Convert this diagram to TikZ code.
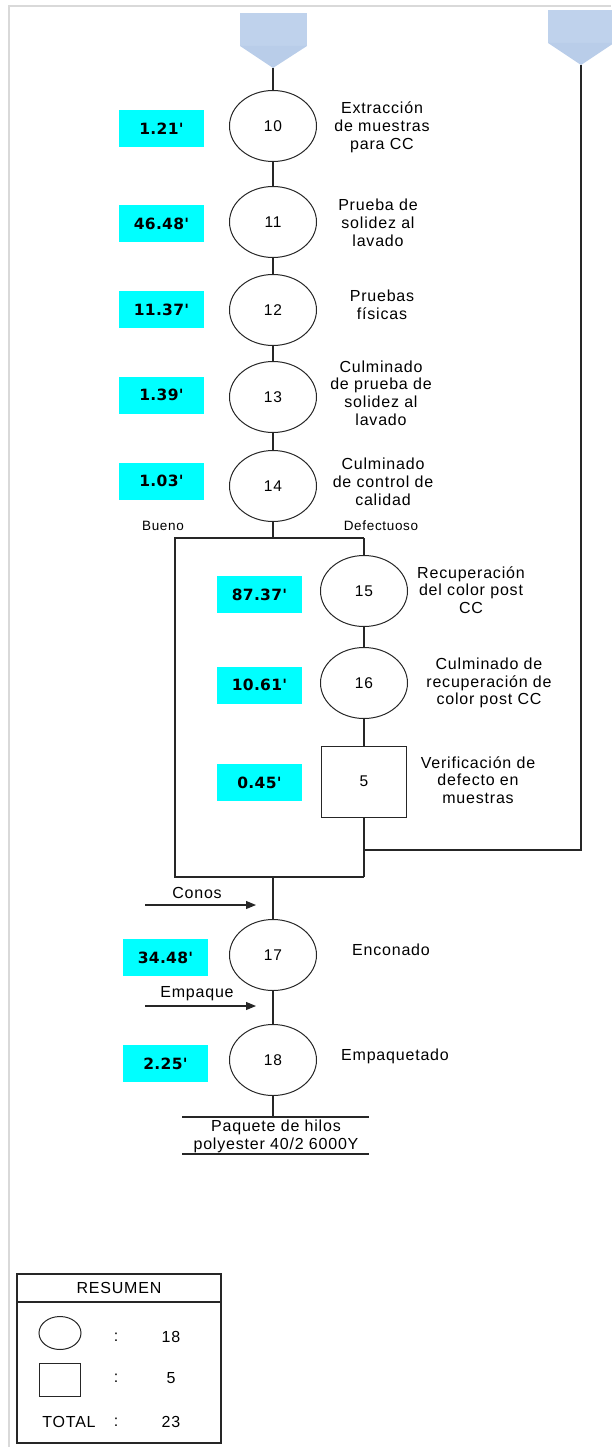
\documentclass[tikz,border=0pt]{standalone}
\usepackage{fontspec}
\setmainfont{Liberation Sans}[LetterSpace=5]
\newfontfamily\timefont{DejaVu Sans}[LetterSpace=2]
\usetikzlibrary{shapes.geometric,arrows.meta}

\definecolor{pageborder}{HTML}{D9D9D9}
\definecolor{connlight}{HTML}{BFD2EC}
\definecolor{conndark}{HTML}{B9CDE9}
\definecolor{timecyan}{HTML}{00FFFF}

\tikzset{
  flow/.style={line width=1.1pt, draw=black!85},
  opnode/.style={ellipse, draw=black!85, line width=1pt, minimum width=87pt,
    minimum height=71pt, inner sep=0pt, font=\fontsize{15.5}{17}\selectfont},
  inspnode/.style={rectangle, draw=black!85, line width=1pt, minimum width=85pt,
    minimum height=71pt, inner sep=0pt, font=\fontsize{15.5}{17}\selectfont},
  timebox/.style={rectangle, fill=timecyan, minimum width=85pt, minimum height=37pt,
    inner sep=0pt, font=\timefont\bfseries\fontsize{15.5}{17}\selectfont},
  desc/.style={align=center, inner sep=0pt, font=\fontsize{16}{17.8}\selectfont},
  branch/.style={inner sep=0pt, font=\fontsize{13.5}{14}\selectfont},
  sumtext/.style={inner sep=0pt, font=\fontsize{16}{17}\selectfont},
  inarrow/.style={flow, -{Triangle[length=10pt,width=8pt]}},
}

\begin{document}
\begin{tikzpicture}[x=1pt,y=-1pt]
\useasboundingbox (0,0) rectangle (611,1447);

% page frame
\draw[pageborder, line width=2pt] (9,1447) -- (9,6) -- (611,6);

% off-page connectors
\fill[connlight] (240,13) rectangle (307,46);
\fill[conndark] (240,46) -- (307,46) -- (273,68) -- cycle;
\coordinate (inL) at (273,68);
\fill[connlight] (548,10) rectangle (614,43);
\fill[conndark] (548,43) -- (614,43) -- (581,65) -- cycle;
\coordinate (inR) at (581,65);

% main operations
\node[opnode] (c10) at (273,126) {10};
\node[opnode] (c11) at (273,222) {11};
\node[opnode] (c12) at (273,310) {12};
\node[opnode] (c13) at (273,397) {13};
\node[opnode] (c14) at (273,486) {14};
\node[opnode] (c15) at (364,591) {15};
\node[opnode] (c16) at (364,683) {16};
\node[inspnode] (s5) at (364,781.5) {5};
\node[opnode] (c17) at (273,955) {17};
\node[opnode] (c18) at (273,1060) {18};

% times
\node[timebox] (t10) at (161.5,128.5) {1.21'};
\node[timebox] (t11) at (161.5,224) {46.48'};
\node[timebox] (t12) at (161.5,309.5) {11.37'};
\node[timebox] (t13) at (161.5,395) {1.39'};
\node[timebox] (t14) at (161.5,481) {1.03'};
\node[timebox] (t15) at (259.5,594.5) {87.37'};
\node[timebox] (t16) at (259.5,685) {10.61'};
\node[timebox] (t5) at (259.5,782.5) {0.45'};
\node[timebox] (t17) at (165.5,957.5) {34.48'};
\node[timebox] (t18) at (165.5,1063.5) {2.25'};

% descriptions
\node[desc] (d10) at (382,127) {Extracción\\de muestras\\para CC};
\node[desc] (d11) at (378,223) {Prueba de\\solidez al\\lavado};
\node[desc] (d12) at (382,305) {Pruebas\\físicas};
\node[desc] (d13) at (381,393) {Culminado\\de prueba de\\solidez al\\lavado};
\node[desc] (d14) at (383,482) {Culminado\\de control de\\calidad};
\node[desc] (d15) at (471,590) {Recuperación\\del color post\\CC};
\node[desc] (d16) at (489,683) {Culminado de\\recuperación de\\color post CC};
\node[desc] (d5) at (478,780) {Verificación de\\defecto en\\muestras};
\node[desc] (d17) at (391,950) {Enconado};
\node[desc] (d18) at (395,1056) {Empaquetado};
\node[branch] (good) at (163,526) {Bueno};
\node[branch] (bad) at (381,526) {Defectuoso};

% junction points
\coordinate (split) at (273,538);
\coordinate (jl) at (175,538);
\coordinate (jr) at (364,538);
\coordinate (bl) at (175,877);
\coordinate (br) at (364,877);
\coordinate (bm) at (273,877);
\coordinate (ret) at (364,850);
\coordinate (retc) at (581,850);
\coordinate (outp) at (273,1117);
\coordinate (pl) at (182,1117);
\coordinate (pr) at (369,1117);
\coordinate (ql) at (182,1154);
\coordinate (qr) at (369,1154);

% flow lines
\draw[flow] (inL) -- (c10.north);
\draw[flow] (c10) -- (c11);
\draw[flow] (c11) -- (c12);
\draw[flow] (c12) -- (c13);
\draw[flow] (c13) -- (c14);
\draw[flow] (c14.south) -- (split);
\draw[flow] (jr) -- (jl) -- (bl) -- (br);
\draw[flow] (jr) -- (c15.north);
\draw[flow] (c15) -- (c16);
\draw[flow] (c16) -- (s5);
\draw[flow] (s5.south) -- (br);
\draw[flow] (inR) -- (retc) -- (ret);
\draw[flow] (bm) -- (c17.north);
\draw[flow] (c17) -- (c18);
\draw[flow] (c18.south) -- (outp);
\draw[flow] (pl) -- (pr);
\draw[flow] (ql) -- (qr);

% product
\node[desc] (prod) at (276,1136) {Paquete de hilos\\polyester 40/2 6000Y};

% material inputs
\coordinate (conA) at (145,905);
\coordinate (conB) at (256,905);
\coordinate (empA) at (145,1006);
\coordinate (empB) at (256,1006);
\draw[inarrow] (conA) -- (conB);
\draw[inarrow] (empA) -- (empB);
\node[desc] (conos) at (197,893) {Conos};
\node[desc] (empq) at (197,994) {Empaque};

% summary
\draw[flow] (17,1274) rectangle (221,1443);
\draw[flow] (17,1302) -- (221,1302);
\node[sumtext] (rt) at (119,1288) {RESUMEN};
\node[ellipse, draw=black!85, line width=1pt, minimum width=42pt, minimum height=33pt, inner sep=0pt] (re) at (60,1333) {};
\node[sumtext] (rc1) at (116,1337) {:};
\node[sumtext] (rn1) at (171,1337) {18};
\node[rectangle, draw=black!85, line width=1pt, minimum width=41pt, minimum height=33pt, inner sep=0pt] (rs) at (60,1379.5) {};
\node[sumtext] (rc2) at (116,1378) {:};
\node[sumtext] (rn2) at (171,1378) {5};
\node[sumtext] (rtot) at (69,1422) {TOTAL};
\node[sumtext] (rc3) at (116,1422) {:};
\node[sumtext] (rn3) at (171,1422) {23};
\end{tikzpicture}
\end{document}
